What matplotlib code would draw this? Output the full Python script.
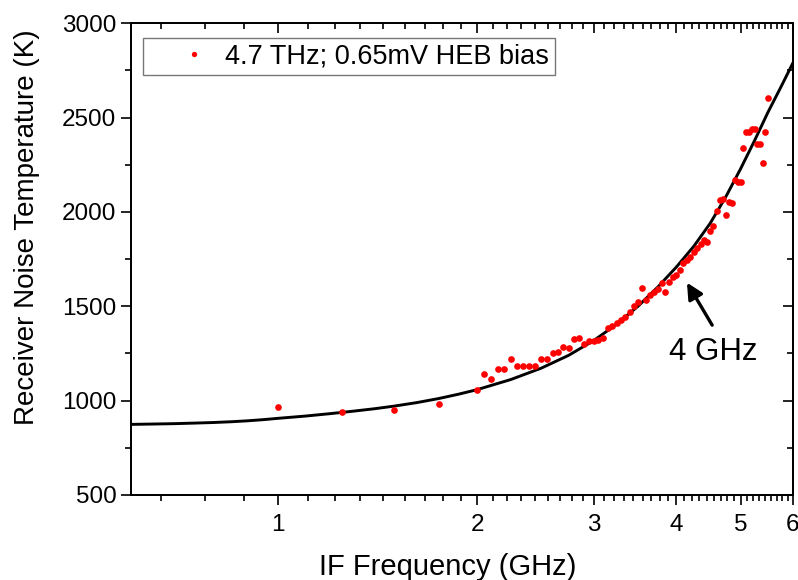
import numpy as np
import matplotlib
matplotlib.use('Agg')
import matplotlib.pyplot as plt
from matplotlib.ticker import FixedLocator, FixedFormatter, NullFormatter

plt.rcParams['font.family'] = ['Liberation Sans', 'DejaVu Sans']

# measured points (GHz, K)
freq = [1.00, 1.25, 1.50, 1.75,
        2.00, 2.05, 2.10, 2.15, 2.20, 2.25, 2.30, 2.35, 2.40, 2.45,
        2.50, 2.55, 2.60, 2.65, 2.70, 2.75, 2.80, 2.85, 2.90, 2.95,
        3.00, 3.05, 3.10, 3.15, 3.20, 3.25, 3.30, 3.35, 3.40, 3.45,
        3.50, 3.55, 3.60, 3.65, 3.70, 3.75, 3.80, 3.85, 3.90, 3.95,
        4.00, 4.05, 4.10, 4.15, 4.20, 4.25, 4.30, 4.35, 4.40, 4.45,
        4.50, 4.55, 4.60, 4.65, 4.70, 4.75, 4.80, 4.85, 4.90, 4.95,
        5.00, 5.05, 5.10, 5.15, 5.20, 5.25, 5.30, 5.35, 5.40, 5.45, 5.50]
trec = [968, 938, 950, 982,
        1056, 1139, 1114, 1166, 1166, 1220, 1185, 1185, 1185, 1185,
        1220, 1220, 1250, 1259, 1285, 1277, 1325, 1333, 1298, 1317,
        1317, 1321, 1330, 1383, 1395, 1409, 1427, 1444, 1471, 1501,
        1524, 1595, 1533, 1559, 1577, 1590, 1624, 1577, 1630, 1656,
        1665, 1692, 1727, 1745, 1762, 1789, 1807, 1830, 1851, 1842,
        1900, 1926, 2004, 2062, 2068, 1983, 2053, 2048, 2168, 2159,
        2159, 2340, 2424, 2424, 2437, 2437, 2359, 2359, 2257, 2424, 2606]

# fitted curve
fit_f = [0.6, 0.65, 0.7, 0.75, 0.8, 0.85, 0.9, 0.95, 1.0, 1.1, 1.2, 1.3, 1.4,
         1.5, 1.625, 1.75, 1.875, 2.0, 2.25, 2.5, 2.75,
         3.0, 3.25, 3.5, 3.75, 4.0, 4.25, 4.5, 4.75, 5.0, 5.25, 5.5, 5.75, 6.0]
fit_t = [874, 876, 878, 881, 884, 888, 893, 899, 906, 918, 931, 944, 957,
         971, 990, 1011, 1034, 1058, 1112, 1172, 1240,
         1318, 1405, 1500, 1602, 1708, 1818, 1940, 2080, 2228, 2378, 2528, 2660, 2790]

xmaj = [1, 2, 3, 4, 5, 6]
xmin = [k + j / 9 for k in range(0, 6) for j in range(1, 9) if k + j / 9 > 0.6]
ymaj = [500, 1000, 1500, 2000, 2500, 3000]
ymin = list(np.arange(750, 3000, 500))

fig = plt.figure(figsize=(7.98, 5.8), dpi=100)
rect = [0.164, 0.1466, 0.8297, 0.8134]
ax = fig.add_axes(rect)

ax.plot(fit_f, fit_t, color='k', lw=2.1, zorder=2)
ax.plot(freq, trec, 'o', color='red', ms=4.8, mec='none', zorder=3,
        label='4.7 THz; 0.65mV HEB bias')


def setup(a):
    a.set_xscale('log')
    a.set_xlim(0.6, 6)
    a.set_ylim(500, 3000)
    a.xaxis.set_major_locator(FixedLocator(xmaj))
    a.xaxis.set_minor_locator(FixedLocator(xmin))
    a.xaxis.set_minor_formatter(NullFormatter())
    a.yaxis.set_major_locator(FixedLocator(ymaj))
    a.yaxis.set_minor_locator(FixedLocator(ymin))
    a.tick_params(which='major', length=7, width=1.2)
    a.tick_params(which='minor', length=4, width=1.2)
    for side in a.spines:
        a.spines[side].set_linewidth(1.3)


setup(ax)
ax.xaxis.set_major_formatter(FixedFormatter([str(v) for v in xmaj]))
ax.tick_params(which='both', labelsize=17.5, direction='out')
ax.tick_params(axis='x', which='both', pad=7)

# overlay axes for the inward ticks on top and right
ov = fig.add_axes(rect, label='overlay')
setup(ov)
ov.patch.set_visible(False)
ov.tick_params(which='both', direction='in', bottom=False, left=False,
               top=True, right=True, labelbottom=False, labelleft=False)

ax.set_xlabel('IF Frequency (GHz)', fontsize=21)
ax.xaxis.set_label_coords(0.479, -0.122)
ax.set_ylabel('Receiver Noise Temperature (K)', fontsize=20)
ax.yaxis.set_label_coords(-0.137, 0.568)

leg = ax.legend(loc='upper left', bbox_to_anchor=(0.018, 0.968), borderaxespad=0,
                fontsize=19.5, frameon=True, fancybox=False, edgecolor='#777777',
                framealpha=1, borderpad=0.2, handletextpad=-0.55, handlelength=3.4,
                markerscale=0.8)
leg.get_frame().set_linewidth(1.0)

ax.annotate('', xy=(4.15, 1625), xytext=(4.53, 1400),
            arrowprops=dict(arrowstyle='-|>', color='k', lw=2.4,
                            mutation_scale=24, shrinkA=0, shrinkB=0))
ax.text(4.55, 1257, '4 GHz', fontsize=22.5, ha='center', va='center')

fig.savefig('out.png', dpi=100)
